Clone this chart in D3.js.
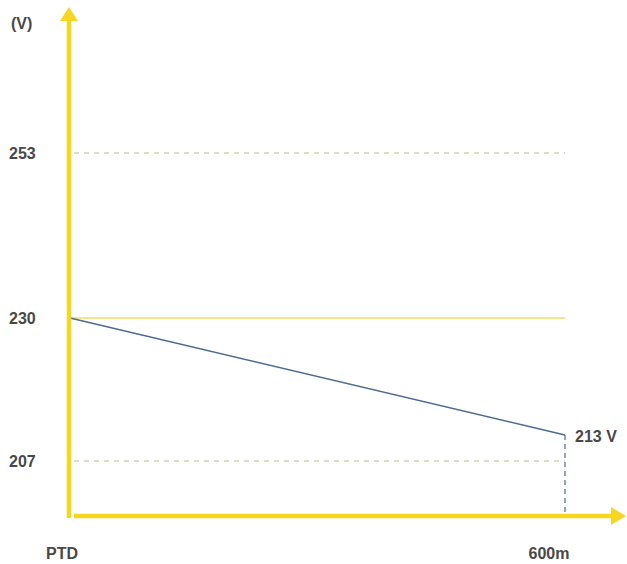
<!DOCTYPE html>
<html>
<head>
<meta charset="utf-8">
<script src="https://cdn.jsdelivr.net/npm/d3@7"></script>
<style>
  body { margin: 0; background: #fff; }
  text { font-family: "Liberation Sans", Arial, sans-serif; font-weight: bold; fill: #484848; font-size: 16px; }
</style>
</head>
<body>
<svg id="chart" width="627" height="564"></svg>
<script>
// voltage reference levels (V)
var limitLevels = [253, 207];
var nominalLevel = 230;
var yTicks = [253, 230, 207];

// drop along the cable: distance (m) -> voltage (V)
var distance = [0, 600];
var voltage = [230, 213];
var xLabels = ["PTD", "600m"];
var endLabel = "213 V";

var svg = d3.select("#chart");

var x = d3.scaleLinear().domain([0, 600]).range([70, 565]);
// schematic axis: the sketch is not spaced evenly, so a piecewise scale
var y = d3.scaleLinear().domain([207, 213, 230, 253]).range([461, 435, 318, 153]);

var yellow = "#f6d61e";

// dashed limit lines
svg.selectAll("line.limit")
  .data(limitLevels)
  .enter().append("line")
    .attr("class", "limit")
    .attr("x1", x(0) + 4).attr("x2", x(600))
    .attr("y1", function(d) { return y(d); })
    .attr("y2", function(d) { return y(d); })
    .attr("stroke", "#b9bb8c")
    .attr("stroke-width", 1.2)
    .attr("stroke-dasharray", "5,5");

// nominal line
svg.append("line")
  .attr("x1", x(0)).attr("x2", x(600))
  .attr("y1", y(nominalLevel)).attr("y2", y(nominalLevel))
  .attr("stroke", "#f2dc6a")
  .attr("stroke-width", 1.5);

// vertical dashed drop from end point
svg.append("line")
  .attr("x1", x(600)).attr("x2", x(600))
  .attr("y1", y(voltage[1])).attr("y2", 514)
  .attr("stroke", "#4d6a8f")
  .attr("stroke-width", 1.2)
  .attr("stroke-dasharray", "5,4");

// voltage drop line
var line = d3.line()
  .x(function(d) { return x(d[0]); })
  .y(function(d) { return y(d[1]); });

svg.append("path")
  .datum(d3.zip(distance, voltage))
  .attr("d", line)
  .attr("fill", "none")
  .attr("stroke", "#4d6a8f")
  .attr("stroke-width", 1.5);

// axes with arrows
svg.append("line")
  .attr("x1", 69).attr("x2", 69)
  .attr("y1", 16).attr("y2", 518)
  .attr("stroke", yellow).attr("stroke-width", 4.5);
svg.append("path")
  .attr("d", "M69,7 L60,21 L78,21 Z")
  .attr("fill", yellow);

svg.append("line")
  .attr("x1", 74).attr("x2", 616)
  .attr("y1", 516).attr("y2", 516)
  .attr("stroke", yellow).attr("stroke-width", 4.5);
svg.append("path")
  .attr("d", "M626,516 L611,507 L611,525 Z")
  .attr("fill", yellow);

// y tick labels
svg.selectAll("text.ytick")
  .data(yTicks)
  .enter().append("text")
    .attr("class", "ytick")
    .attr("x", 9)
    .attr("y", function(d) { return y(d); })
    .attr("dy", "0.35em")
    .text(function(d) { return d; });

svg.append("text")
  .attr("x", 11).attr("y", 23).attr("dy", "0.35em")
  .text("(V)");

// x labels
svg.selectAll("text.xlab")
  .data(xLabels)
  .enter().append("text")
    .attr("class", "xlab")
    .attr("x", function(d, i) { return i === 0 ? 62 : 549; })
    .attr("y", 553)
    .attr("dy", "0.35em")
    .attr("text-anchor", "middle")
    .text(function(d) { return d; });

svg.append("text")
  .attr("x", x(600) + 10).attr("y", y(voltage[1]) + 1).attr("dy", "0.35em")
  .text(endLabel);
</script>
</body>
</html>
